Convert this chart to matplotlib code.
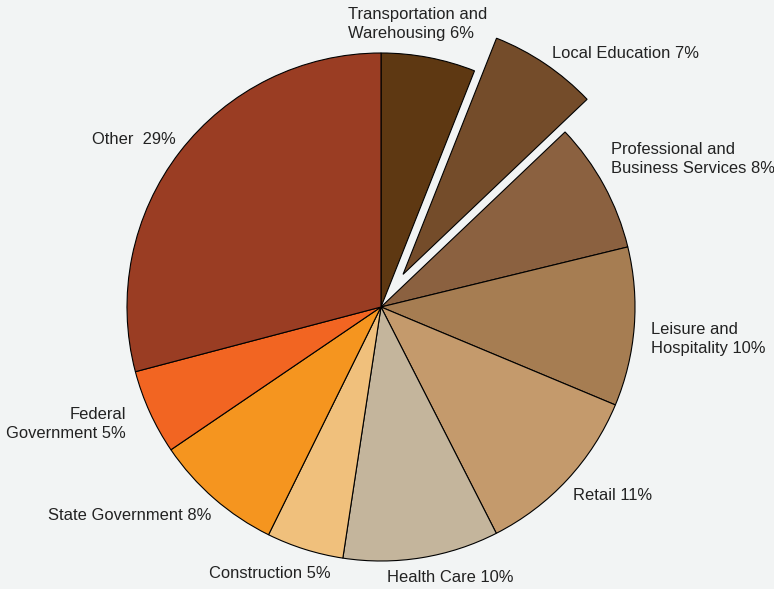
import matplotlib.pyplot as plt

# Slices, clockwise from 12 o'clock
sectors = ["Transportation and Warehousing", "Local Education",
           "Professional and Business Services", "Leisure and Hospitality",
           "Retail", "Health Care", "Construction", "State Government",
           "Federal Government", "Other"]
shares = [6.0, 6.9, 8.3, 10.1, 11.2, 9.9, 4.9, 8.2, 5.4, 29.1]
colors = ["#5E3812", "#744C2A", "#8B6140", "#A67D52", "#C49A6C",
          "#C4B59C", "#F0C07C", "#F5951F", "#F26522", "#9A3D23"]
explode = [0, 0.155, 0, 0, 0, 0, 0, 0, 0, 0]

label_texts = ["Transportation and\nWarehousing 6%", "Local Education 7%",
               "Professional and\nBusiness Services 8%", "Leisure and\nHospitality 10%",
               "Retail 11%", "Health Care 10%", "Construction 5%",
               "State Government 8%", "Federal\nGovernment 5%", "Other  29%"]
# label anchor in pixels (x, y from top) and horizontal alignment
label_pos = [(348, 24, "left"), (552, 53, "left"), (611, 159, "left"),
             (651, 339, "left"), (573, 496, "left"), (387, 577, "left"),
             (209, 573, "left"), (211, 515, "right"), (126, 424, "right"),
             (92, 139, "left")]

W, H = 774, 589
cx, cy, R = 381, 307, 254
bg = "#F2F4F4"

plt.rcParams['font.family'] = ['Liberation Sans', 'DejaVu Sans']

fig = plt.figure(figsize=(W / 100, H / 100), dpi=100, facecolor=bg)
ax = fig.add_axes([0, 0, 1, 1])
ax.set_facecolor(bg)

ax.pie(shares, colors=colors, explode=explode, startangle=90, counterclock=False,
       wedgeprops=dict(edgecolor="black", linewidth=0.8))

ax.set_aspect('auto')
ax.set_xlim(-cx / R, (W - cx) / R)
ax.set_ylim(-(H - cy) / R, cy / R)
ax.axis('off')

for txt, (px, py, ha) in zip(label_texts, label_pos):
    fig.text(px / W, 1 - py / H, txt, ha=ha, va="center", fontsize=11.9,
             color="#222222", multialignment=ha, linespacing=1.35)

plt.savefig("out.png", dpi=100, facecolor=bg)
